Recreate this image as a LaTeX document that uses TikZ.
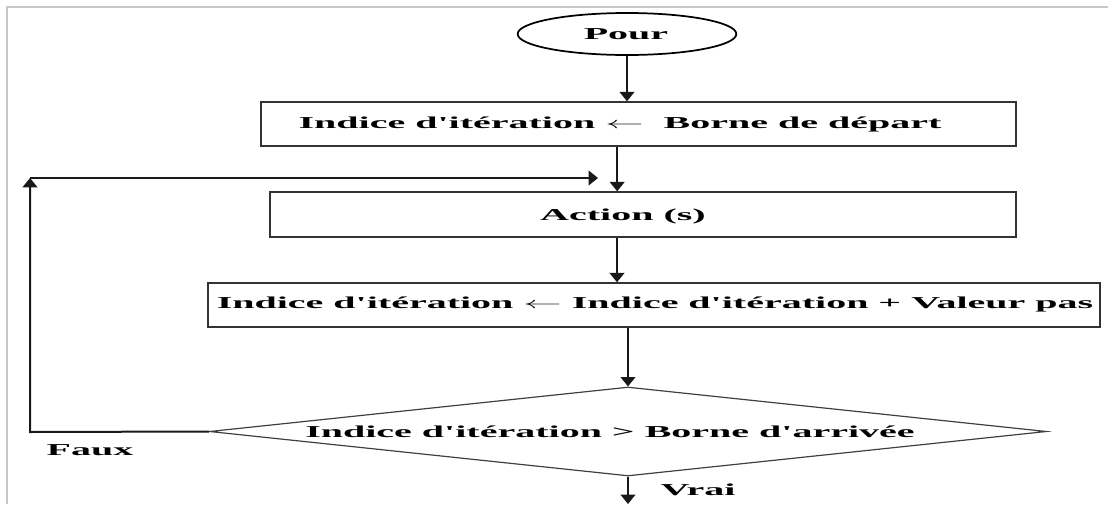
\documentclass[tikz,border=0pt]{standalone}
\usepackage{fontspec}
\setmainfont{Liberation Serif}[Ligatures=TeXOff]
\usepackage{graphicx}
\usetikzlibrary{shapes.geometric,arrows.meta}

% wide bold lettering used for every label
\newcommand\widetxt[1]{\scalebox{2.4}[1]{\fontsize{12.5}{15}\selectfont\bfseries #1}}

\begin{document}
\begin{tikzpicture}[x=0.75pt,y=-0.75pt,
  boxstyle/.style={draw=black!80,line width=1.05pt,rectangle,inner sep=0pt},
  arr/.style={draw=black!90,line width=1.2pt,-{Triangle[width=11pt,length=7pt]}},
  lbl/.style={inner sep=0pt}]
  \useasboundingbox (0,0) rectangle (1108,504);
  % page frame
  \draw[black!22,line width=0.8pt] (7,504) -- (7,7) -- (1108,7);

  % start
  \node[ellipse,draw=black,line width=1.3pt,minimum width=164pt,minimum height=31.5pt,inner sep=0pt]
    (pour) at (627,34) {};
  \node[lbl] (pourtxt) at (626,34) {\widetxt{Pour}};

  % initialisation
  \node[boxstyle,minimum width=566.25pt,minimum height=33pt] (init) at (638.5,124) {};
  \node[lbl] (inittxt) at (620,124) {\widetxt{Indice d'itération $\leftarrow$\ \ Borne de départ}};

  % loop body
  \node[boxstyle,minimum width=559.5pt,minimum height=33.75pt] (act) at (643,214.5) {};
  \node[lbl] (acttxt) at (623,216) {\widetxt{Action (s)}};

  % increment
  \node[boxstyle,minimum width=669pt,minimum height=33pt] (incr) at (654,305) {};
  \node[lbl] (incrtxt) at (655,304) {\widetxt{Indice d'itération $\leftarrow$ Indice d'itération + Valeur pas}};

  % test
  \node[diamond,draw=black!75,line width=0.9pt,aspect=9.4,minimum width=627.75pt,minimum height=66.75pt,inner sep=0pt]
    (test) at (628,431.5) {};
  \node[lbl] (testtxt) at (610,432) {\widetxt{Indice d'itération > Borne d'arrivée}};

  \node[lbl] (faux) at (90,450) {\widetxt{Faux}};
  \node[lbl] (vrai) at (698,490) {\widetxt{Vrai}};

  % loop-back path
  \coordinate (lb) at (30,432);
  \coordinate (lt) at (30,178);
  \coordinate (le) at (598,178);
  \coordinate (out) at (628,504);

  % connectors
  \draw[arr] (pour.south) -- (pour.south |- init.north);
  \draw[arr] ([xshift=-16pt]init.south) -- ([xshift=-16pt]init.south |- act.north);
  \draw[arr] ([xshift=-19.5pt]act.south) -- ([xshift=-19.5pt]act.south |- incr.north);
  \draw[arr] (incr.south -| test.north) -- (test.north);
  \draw[arr] (test.south) -- (out);
  \draw[arr,line width=1.5pt] (test.west) -- (lb) -- (lt);
  \draw[arr] (lt) -- (le);
\end{tikzpicture}
\end{document}
